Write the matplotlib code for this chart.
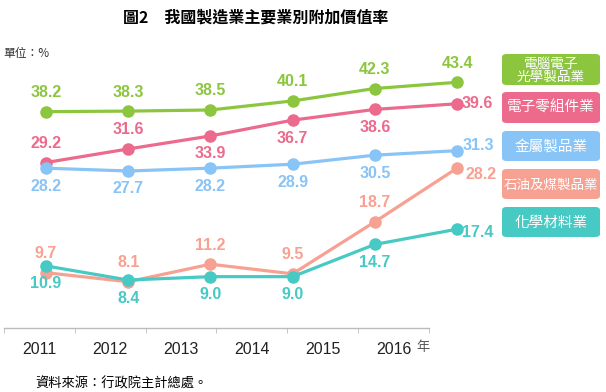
import matplotlib
matplotlib.use('Agg')
import matplotlib.pyplot as plt
from matplotlib.patches import FancyBboxPatch

years = ['2011', '2012', '2013', '2014', '2015', '2016']
series_names = ['電腦電子\n光學製品業', '電子零組件業', '金屬製品業', '石油及煤製品業', '化學材料業']
computer = [38.2, 38.3, 38.5, 40.1, 42.3, 43.4]
components = [29.2, 31.6, 33.9, 36.7, 38.6, 39.6]
metal = [28.2, 27.7, 28.2, 28.9, 30.5, 31.3]
petro = [9.7, 8.1, 11.2, 9.5, 18.7, 28.2]
chemical = [10.9, 8.4, 9.0, 9.0, 14.7, 17.4]

colors = ['#8CC63F', '#EC6A8C', '#89C4F6', '#F7A192', '#47C9C4']
# where each value label sits: a = above, b = below, r = right of point
label_pos = [
    ['a', 'a', 'a', 'a', 'a', 'a'],
    ['a', 'a', 'b', 'b', 'b', 'r'],
    ['b', 'b', 'b', 'b', 'b', 'r'],
    ['a', 'a', 'a', 'a', 'a', 'r'],
    ['b', 'b', 'b', 'b', 'b', 'r'],
]
right_dy = [0, 0, 5, -6, -3]
right_dx = [6, 5, 6, 9, 5]
box_fontsize = [9.8, 10.5, 10.5, 9.7, 10.5]

plt.rcParams['font.family'] = ['Liberation Sans', 'Noto Sans CJK TC']
cjk = ['Noto Sans CJK TC', 'DejaVu Sans']

W, H = 606, 392
fig = plt.figure(figsize=(W / 100, H / 100), dpi=100)

# data axes: x pixels 4..500, y pixels 55..327.5
ax = fig.add_axes([4 / W, (H - 327.5) / H, 496 / W, 272.5 / H])
ax.set_xlim((4 - 46) / 82.2, (500 - 46) / 82.2)
ax.set_ylim(0, 272.5 / 5.65)
ax.axis('off')

xs = list(range(len(years)))
data = [computer, components, metal, petro, chemical]
for idx in [0, 2, 1, 3, 4]:
    ax.plot(xs, data[idx], '-o', color=colors[idx], lw=2.3, ms=8, zorder=3 + idx,
            solid_capstyle='round', clip_on=False)

for si, vals in enumerate(data):
    for i, v in enumerate(vals):
        p = label_pos[si][i]
        if p == 'a':
            off, ha = (0, 19), 'center'
        elif p == 'b':
            off, ha = (0, -18), 'center'
        else:
            off, ha = (right_dx[si], right_dy[si]), 'left'
        ax.annotate(f'{v:.1f}', (i, v), xytext=off, textcoords='offset pixels',
                    ha=ha, va='center', color=colors[si], fontsize=11.5,
                    fontweight='bold', annotation_clip=False, zorder=10)

# category axis: band edges at x pixels 4..429
ax2 = fig.add_axes([4 / W, (H - 328) / H, 496 / W, 0.001])
band = 425 / 6
ax2.set_xlim(-0.5, -0.5 + 496 / band)
ax2.set_ylim(0, 1)
for s in ['top', 'left', 'right']:
    ax2.spines[s].set_visible(False)
ax2.spines['bottom'].set_color('#BBBBBB')
ax2.spines['bottom'].set_linewidth(1)
ax2.spines['bottom'].set_bounds(-0.5, 5.5)
ax2.set_yticks([])
ax2.set_xticks(xs)
ax2.set_xticklabels(years, fontsize=11.5, color='#222222')
ax2.set_xticks([i - 0.5 for i in range(len(years) + 1)], minor=True)
ax2.tick_params(axis='x', which='major', length=0, pad=10)
ax2.tick_params(axis='x', which='minor', length=3.5, color='#BBBBBB', direction='out')
ax2.patch.set_visible(False)

fig.text(423 / W, 1 - 348 / H, '年', family=cjk, fontsize=9.5, color='#555555',
         ha='center', va='center')

# legend boxes
boxes = [(54, 85), (92, 123), (131, 161), (169, 199), (207, 237)]
for k, (y0, y1) in enumerate(boxes):
    patch = FancyBboxPatch((502 / W, 1 - y1 / H), 98 / W, (y1 - y0) / H,
                           boxstyle='round,pad=0,rounding_size=0.008',
                           transform=fig.transFigure, facecolor=colors[k],
                           edgecolor='none')
    fig.patches.append(patch)
    fig.text(551 / W, 1 - ((y0 + y1) / 2 + 0.5) / H, series_names[k], family=cjk,
             fontsize=box_fontsize[k], color='white', ha='center', va='center',
             linespacing=0.92)

fig.text(256 / W, 1 - 18 / H, '圖2　我國製造業主要業別附加價值率', family=cjk,
         fontsize=11.5, fontweight='bold', ha='center', va='center', color='black')
fig.text(3 / W, 1 - 53 / H, '單位：%', family=cjk, fontsize=8.5, color='#333333',
         ha='left', va='center')
fig.text(35 / W, 1 - 384 / H, '資料來源：行政院主計總處。', family=cjk, fontsize=9.5,
         color='black', ha='left', va='center')

fig.savefig('out.png', dpi=100)
